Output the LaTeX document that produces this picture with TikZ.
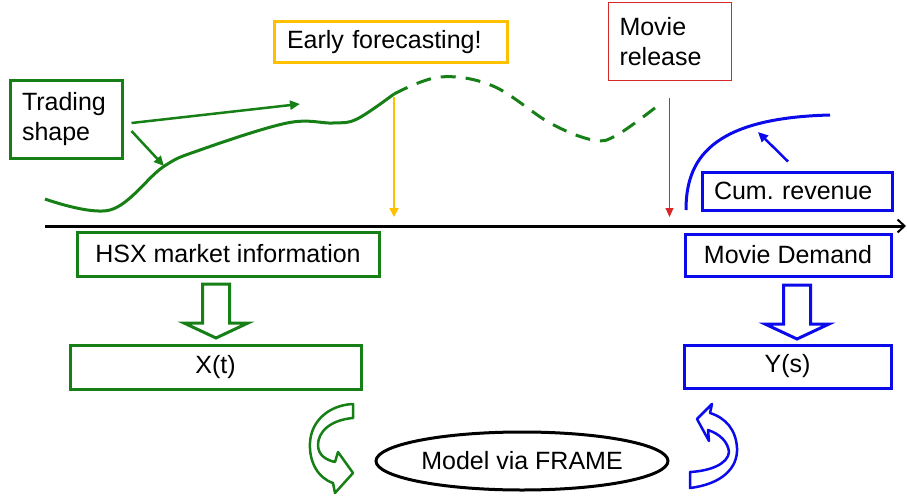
\documentclass[tikz,border=0pt]{standalone}
\usepackage{fontspec}
\setmainfont{Liberation Sans}
\usetikzlibrary{arrows.meta,shapes.geometric,calc}

\definecolor{hsxgreen}{RGB}{22,128,22}
\definecolor{earlyyellow}{RGB}{255,192,0}
\definecolor{releasered}{RGB}{215,40,40}
\definecolor{demandblue}{RGB}{10,10,235}

\tikzset{
  box/.style={draw, line width=3pt, inner sep=0pt, text=black},
  gbox/.style={box, draw=hsxgreen},
  ybox/.style={box, draw=earlyyellow},
  rbox/.style={box, draw=releasered, line width=1pt},
  bbox/.style={box, draw=demandblue},
  hollowdown/.pic={
    \draw[pic actions] (-13.5,0) -- (13.5,0) -- (13.5,39) -- (32,39) -- (0,54)
      -- (-32,39) -- (-13.5,39) -- cycle;
  }
}

\begin{document}
\frenchspacing
\begin{tikzpicture}[x=1pt, y=-1pt,
  every node/.style={font=\fontsize{25}{30}\selectfont},
  trend/.style={hsxgreen, line width=3pt},
  garrow/.style={hsxgreen, line width=2.5pt, -{Triangle[length=10pt,width=9pt]}},
  barrow/.style={demandblue, line width=2.5pt, -{Triangle[length=10pt,width=9pt]}},
  curl/.style={line width=2.5pt, fill=white, line join=round}]
\useasboundingbox (0,0) rectangle (907,495);

% Time axis
\coordinate (t0) at (45,226);
\coordinate (t1) at (906,226);
\draw[line width=3pt, -{Straight Barb[length=7pt,width=13pt,line width=2pt]}] (t0) -- (t1);

% Boxes above the axis
\node[gbox, text width=88, inner xsep=12, minimum height=78, align=left] (trading) at (66,119) {Trading\\shape};
\node[ybox, text width=207, inner xsep=13, minimum height=41, align=left] (early) at (390.5,42.5) {Early forecasting!};
\node[rbox, text width=100, inner xsep=11.5, minimum height=77, align=left] (release) at (669.5,41.5) {Movie\\release};
\node[bbox, text width=166, inner xsep=12, minimum height=38, align=left] (cum) at (797,191) {Cum. revenue};

% Boxes below the axis
\node[gbox, minimum width=302, minimum height=44] (hsx) at (228,254) {HSX market information};
\node[bbox, minimum width=206, minimum height=42] (demand) at (788,255) {Movie Demand};
\node[gbox, minimum width=291, minimum height=44] (xt) at (215.5,367) {X(t)};
\node[bbox, minimum width=207, minimum height=43] (ys) at (787.5,366.5) {Y(s)};
\node[draw, ellipse, line width=3pt, inner sep=0pt, minimum width=292, minimum height=58] (model) at (522,461) {Model via FRAME};

% Trading curve: solid before the forecast, dashed after it
\coordinate (fc) at (394,94);
\draw[trend] plot[smooth, tension=0.6] coordinates {(45,199) (110,210) (163,167) (200,150) (287,123) (333,123) (357,119) (fc)};
\draw[trend, dash pattern=on 15pt off 10pt] plot[smooth, tension=0.6] coordinates {(fc) (440,77) (493,86) (550,123) (593,140) (617,135) (660,104)};

% Trading shape arrows
\coordinate (up) at (300,104);
\coordinate (low) at (164,166);
\draw[garrow] ($(trading.east)+(8,4)$) -- (up);
\draw[garrow] ($(trading.east)+(8,12)$) -- (low);

% Forecast and release markers
\draw[earlyyellow, line width=2pt, shorten <=3pt, shorten >=9pt, -{Triangle[length=9pt,width=9pt]}] (fc) -- (fc |- t0);
\draw[releasered, line width=1pt, shorten >=9pt, -{Triangle[length=9pt,width=8pt]}] ([yshift=-17pt]release.south) -- (release.south |- t0);

% Cumulative revenue curve
\coordinate (r0) at (686,210);
\coordinate (r1) at (830,115);
\coordinate (rev) at (758,132);
\draw[demandblue, line width=3pt] (r0) .. controls (686,160) and (710,118) .. (r1);
\draw[barrow] ($(cum.north)+(-9,-9)$) -- (rev);

% Hollow arrows down to X(t) and Y(s)
\pic[draw=hsxgreen, fill=white, line width=3pt] at (216,284) {hollowdown};
\pic[draw=demandblue, fill=white, line width=3pt] at (797,285) {hollowdown};

% Curved arrows into the model
\draw[curl, draw=hsxgreen] (353,404) -- (353,418)
  .. controls (330,420) and (318,432) .. (318,445)
  .. controls (318,455) and (326,460) .. (335,462)
  -- (338,452) -- (353,473) -- (335,493) -- (333,483)
  .. controls (318,478) and (309,462) .. (310,443)
  .. controls (311,420) and (330,405) .. (353,404) -- cycle;
\draw[curl, draw=demandblue] (690,472) -- (690,488)
  .. controls (722,484) and (738,468) .. (737,448)
  .. controls (736,430) and (726,418) .. (710,413)
  -- (712,404) -- (697,419) -- (709,441) -- (708,430)
  .. controls (720,434) and (728,442) .. (729,452)
  .. controls (728,464) and (710,471) .. (690,472) -- cycle;

\end{tikzpicture}
\end{document}
